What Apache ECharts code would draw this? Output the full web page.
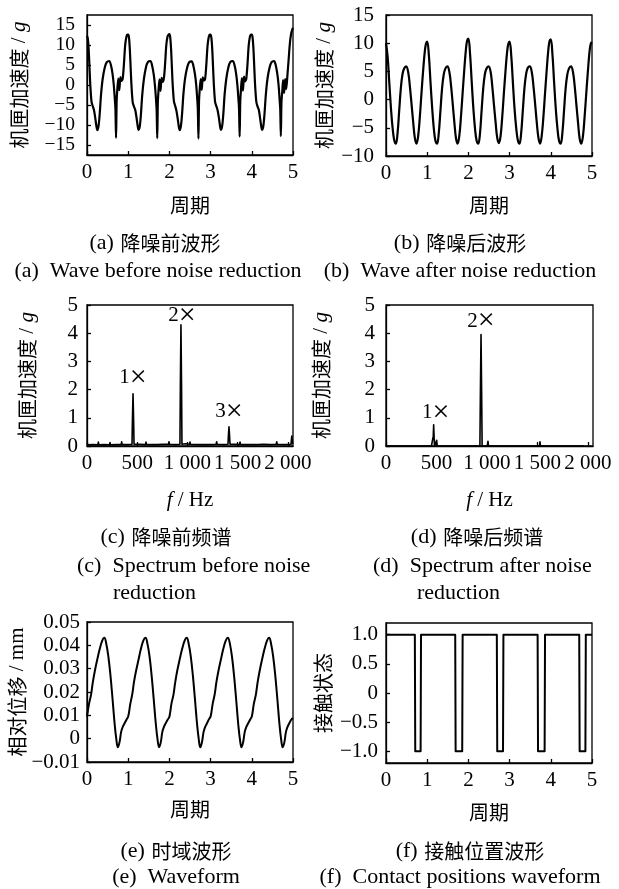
<!DOCTYPE html>
<html><head><meta charset="utf-8">
<script src="https://cdn.jsdelivr.net/npm/echarts@6/dist/echarts.min.js"></script>
<style>html,body{margin:0;padding:0;background:#fff}#c{width:619px;height:889px}</style>
</head><body><div id="c"></div>
<script>
// ---------- (a) wave before noise reduction ----------
const waveA_t = [
 0,0.02,0.04,0.06,0.08,0.11,0.14,0.17,0.20,0.23,0.25,0.28,0.31,0.34,0.38,0.43,0.48,0.54,0.58,0.62,0.65,0.675,0.69,0.705,0.72,0.74,0.76,0.785,0.81,0.835,0.865,0.895,0.925,0.955,0.98,
 1,1.02,1.04,1.06,1.08,1.11,1.14,1.17,1.20,1.23,1.25,1.28,1.31,1.34,1.38,1.43,1.48,1.54,1.58,1.62,1.65,1.675,1.69,1.705,1.72,1.74,1.76,1.785,1.81,1.835,1.865,1.895,1.925,1.955,1.98,
 2,2.02,2.04,2.06,2.08,2.11,2.14,2.17,2.20,2.23,2.25,2.28,2.31,2.34,2.38,2.43,2.48,2.54,2.58,2.62,2.65,2.675,2.69,2.705,2.72,2.74,2.76,2.785,2.81,2.835,2.865,2.895,2.925,2.955,2.98,
 3,3.02,3.04,3.06,3.08,3.11,3.14,3.17,3.20,3.23,3.25,3.28,3.31,3.34,3.38,3.43,3.48,3.54,3.58,3.62,3.65,3.675,3.69,3.705,3.72,3.74,3.76,3.785,3.81,3.835,3.865,3.895,3.925,3.955,3.98,
 4,4.02,4.04,4.06,4.08,4.11,4.14,4.17,4.20,4.23,4.25,4.28,4.31,4.34,4.38,4.43,4.48,4.54,4.58,4.62,4.65,4.675,4.69,4.705,4.72,4.74,4.76,4.785,4.81,4.835,4.865,4.895,4.925,4.955,4.98,
 5];
const waveA_v = [
 12.3,11.6,9.0,4.5,0.0,-4.2,-5.3,-6.3,-8.2,-10.4,-11.3,-10.3,-7.0,-2.5,1.5,4.3,5.7,6.0,5.0,2.8,0.0,-3.5,-6.0,-13.2,-4.0,-0.5,1.6,-1.3,2.0,1.0,1.5,5.0,9.8,12.0,12.6,
 12.6,11.8,8.8,4.2,-0.2,-4.4,-5.4,-6.2,-8.0,-10.2,-11.2,-10.4,-7.2,-2.6,1.4,4.4,5.8,6.0,4.9,2.6,-0.2,-3.6,-6.2,-13.3,-4.2,-0.8,1.4,-1.5,1.8,0.8,1.6,5.2,10.0,12.1,12.6,
 12.7,11.9,9.1,4.6,0.1,-4.1,-5.2,-6.4,-8.3,-10.5,-11.3,-10.2,-6.9,-2.3,1.6,4.3,5.7,5.9,4.9,2.7,0.1,-3.4,-6.1,-13.4,-3.8,-0.6,1.5,-1.2,1.9,1.1,1.4,4.9,9.7,12.0,12.6,
 12.6,11.7,8.9,4.4,-0.1,-4.3,-5.3,-6.3,-8.1,-10.3,-11.2,-10.3,-7.1,-2.4,1.5,4.4,5.8,6.0,5.0,2.8,0.0,-3.5,-5.9,-12.9,-4.1,-0.7,1.7,-1.4,2.1,0.9,1.5,5.1,9.9,12.1,12.6,
 12.6,11.8,9.0,4.5,0.0,-4.2,-5.4,-6.2,-8.2,-10.4,-11.2,-10.3,-7.0,-2.5,1.5,4.3,5.7,6.0,5.0,2.7,0.0,-3.6,-6.0,-12.8,-4.3,-1.5,1.2,-2.0,1.5,-1.0,2.5,6.5,10.5,12.8,13.8,
 14.3];

// ---------- (b) wave after noise reduction ----------
const waveB_t = [
 0,0.04,0.08,0.12,0.16,0.20,0.24,0.28,0.32,0.36,0.40,0.44,0.49,0.54,0.58,0.62,0.66,0.70,0.74,0.78,0.82,0.86,0.90,0.94,0.97,
 1,1.04,1.08,1.12,1.16,1.20,1.24,1.28,1.32,1.36,1.40,1.44,1.49,1.54,1.58,1.62,1.66,1.70,1.74,1.78,1.82,1.86,1.90,1.94,1.97,
 2,2.04,2.08,2.12,2.16,2.20,2.24,2.28,2.32,2.36,2.40,2.44,2.49,2.54,2.58,2.62,2.66,2.70,2.74,2.78,2.82,2.86,2.90,2.94,2.97,
 3,3.04,3.08,3.12,3.16,3.20,3.24,3.28,3.32,3.36,3.40,3.44,3.49,3.54,3.58,3.62,3.66,3.70,3.74,3.78,3.82,3.86,3.90,3.94,3.97,
 4,4.04,4.08,4.12,4.16,4.20,4.24,4.28,4.32,4.36,4.40,4.44,4.49,4.54,4.58,4.62,4.66,4.70,4.74,4.78,4.82,4.86,4.90,4.94,4.97,
 5];
const waveB_v = [
 10.0,7.6,3.0,-1.5,-5.0,-7.2,-7.8,-6.0,-2.0,2.0,4.5,5.5,5.9,4.8,2.3,-0.8,-4.0,-6.8,-7.8,-6.5,-3.2,1.0,5.0,8.4,9.9,
 10.3,7.9,3.1,-1.4,-5.1,-7.3,-7.8,-6.0,-2.1,1.9,4.4,5.5,5.9,4.8,2.4,-0.8,-4.1,-6.9,-7.8,-6.4,-3.0,1.2,5.3,8.9,10.5,
 10.8,8.1,3.2,-1.5,-5.1,-7.3,-7.8,-6.1,-2.0,2.0,4.5,5.5,5.9,4.9,2.3,-0.9,-4.0,-6.8,-7.7,-6.5,-3.2,1.0,5.0,8.5,9.9,
 10.3,7.8,3.0,-1.6,-5.0,-7.2,-7.8,-6.0,-2.0,2.0,4.5,5.6,5.9,4.8,2.3,-0.8,-4.1,-6.8,-7.8,-6.4,-3.1,1.1,5.2,8.8,10.4,
 10.7,8.0,3.1,-1.5,-5.0,-7.3,-7.8,-6.0,-2.1,2.0,4.4,5.5,5.9,4.8,2.4,-0.8,-4.0,-6.9,-7.8,-6.5,-3.1,1.0,5.0,8.5,9.9,
 10.2];

// ---------- (c) spectrum before noise reduction ----------
const specC_f = [0,60,108,113,118,170,224,229,234,290,340,345,350,400,448,452,458,464,468,520,582,587,592,645,695,700,705,760,811,816,821,880,925,929,935,941,945,980,1020,1025,1030,1100,1166,1171,1176,1230,1285,1290,1295,1360,1403,1407,1413,1419,1423,1470,1518,1523,1528,1580,1637,1642,1647,1700,1756,1761,1766,1830,1883,1888,1893,1960,2030,2038,2045,2050];
const specC_a = [0.04,0.05,0.04,0.14,0.04,0.05,0.04,0.12,0.04,0.05,0.05,0.15,0.05,0.05,0.06,0.9,1.85,0.9,0.06,0.06,0.05,0.14,0.05,0.05,0.05,0.12,0.05,0.06,0.06,0.15,0.06,0.05,0.06,2.1,4.3,2.1,0.06,0.08,0.06,0.14,0.06,0.05,0.05,0.12,0.05,0.05,0.06,0.15,0.06,0.05,0.06,0.35,0.68,0.35,0.06,0.06,0.05,0.14,0.05,0.05,0.05,0.12,0.05,0.05,0.06,0.13,0.06,0.05,0.06,0.15,0.06,0.05,0.06,0.35,0.1,0.12];
const peaksC_f = [458, 935, 1413];
const peaksC_a = [1.85, 4.3, 0.68];
const peaksC_n = ['1', '2', '3'];

// ---------- (d) spectrum after noise reduction ----------
const specD_f = [0,450,464,468,472,476,480,497,502,507,930,935,941,947,952,1005,1010,1015,1398,1403,1408,1520,1525,1530,1960];
const specD_a = [0,0,0,0.35,0.75,0.35,0,0,0.2,0,0,1.95,3.95,1.95,0,0,0.17,0,0,0.06,0,0,0.15,0,0];
const peaksD_f = [472, 941];
const peaksD_a = [0.75, 3.95];
const peaksD_n = ['1', '2'];

// ---------- (e) relative displacement ----------
const dispE_t = [
 0,0.05,0.10,0.14,0.19,0.25,0.31,0.37,0.42,0.47,0.52,0.57,0.62,0.67,0.71,0.75,0.79,0.83,0.87,0.91,0.96,
 1,1.05,1.10,1.14,1.19,1.25,1.31,1.37,1.42,1.47,1.52,1.57,1.62,1.67,1.71,1.75,1.79,1.83,1.87,1.91,1.96,
 2,2.05,2.10,2.14,2.19,2.25,2.31,2.37,2.42,2.47,2.52,2.57,2.62,2.67,2.71,2.75,2.79,2.83,2.87,2.91,2.96,
 3,3.05,3.10,3.14,3.19,3.25,3.31,3.37,3.42,3.47,3.52,3.57,3.62,3.67,3.71,3.75,3.79,3.83,3.87,3.91,3.96,
 4,4.05,4.10,4.14,4.19,4.25,4.31,4.37,4.42,4.47,4.52,4.57,4.62,4.67,4.71,4.75,4.79,4.83,4.87,4.91,4.96,
 5];
const dispE_v = [
 0.0095,0.0150,0.0190,0.0240,0.0290,0.0340,0.0385,0.0420,0.0432,0.0405,0.0350,0.0270,0.0170,0.0065,0.0000,-0.0037,-0.0015,0.0030,0.0052,0.0065,0.0082,
 0.0095,0.0148,0.0192,0.0242,0.0290,0.0338,0.0386,0.0421,0.0432,0.0404,0.0350,0.0268,0.0168,0.0064,0.0000,-0.0037,-0.0016,0.0030,0.0052,0.0066,0.0082,
 0.0094,0.0150,0.0190,0.0240,0.0291,0.0340,0.0385,0.0420,0.0432,0.0405,0.0351,0.0270,0.0170,0.0065,0.0001,-0.0037,-0.0015,0.0029,0.0051,0.0065,0.0083,
 0.0095,0.0149,0.0191,0.0241,0.0290,0.0339,0.0386,0.0421,0.0433,0.0405,0.0350,0.0269,0.0169,0.0064,0.0000,-0.0037,-0.0015,0.0030,0.0052,0.0065,0.0082,
 0.0095,0.0150,0.0190,0.0240,0.0290,0.0340,0.0385,0.0420,0.0432,0.0405,0.0350,0.0270,0.0170,0.0065,0.0000,-0.0037,-0.0016,0.0030,0.0052,0.0066,0.0082,
 0.0088];

// ---------- (f) contact state ----------
const contactF_t = [0,0.70,0.71,0.84,0.85,1.68,1.69,1.85,1.86,2.69,2.70,2.84,2.85,3.68,3.69,3.85,3.86,4.69,4.70,4.84,4.85,5];
const contactF_v = [1,1,-1,-1,1,1,-1,-1,1,1,-1,-1,1,1,-1,-1,1,1,-1,-1,1,1];

// ---------- tick labels ----------
const ticksPeriod = [0,1,2,3,4,5];
const labelsPeriod = ['0','1','2','3','4','5'];
const ticksA = [-15,-10,-5,0,5,10,15];
const labelsA = ['\u221215','\u221210','\u22125','0','5','10','15'];
const ticksB = [-10,-5,0,5,10,15];
const labelsB = ['\u221210','\u22125','0','5','10','15'];
const ticksFreq = [0,500,1000,1500,2000];
const labelsFreq = ['0','500','1 000','1 500','2 000'];
const ticksSpec = [0,1,2,3,4,5];
const labelsSpec = ['0','1','2','3','4','5'];
const ticksE = [-0.01,0,0.01,0.02,0.03,0.04,0.05];
const labelsE = ['\u22120.01','0','0.01','0.02','0.03','0.04','0.05'];
const ticksF = [-1,-0.5,0,0.5,1];
const labelsF = ['\u22121.0','\u22120.5','0','0.5','1.0'];

const captionsZh = ['降噪前波形','降噪后波形','降噪前频谱','降噪后频谱','时域波形','接触位置波形'];
const captionsEn = ['Wave before noise reduction','Wave after noise reduction','Spectrum before noise','Spectrum after noise','Waveform','Contact positions waveform'];
const captionTags = ['(a)','(b)','(c)','(d)','(e)','(f)'];

// ================= rendering =================
const SERIF = '"Liberation Serif","Times New Roman",serif';
const CJK = '"Noto Sans CJK SC",sans-serif';
const BLACK = '#000';
const FS = 21;

const nameRich = {
  c: {fontFamily: CJK, fontSize: 20, color: BLACK},
  s: {fontFamily: SERIF, fontSize: 21, color: BLACK},
  i: {fontFamily: SERIF, fontSize: 21, fontStyle: 'italic', color: BLACK}
};

function lab(ticks, labels) {
  return v => { const k = ticks.findIndex(t => Math.abs(t - v) < 1e-9); return k < 0 ? '' : labels[k]; };
}
function mkX(i, min, max, ticks, labels, name, gap) {
  return {
    type: 'value', gridIndex: i, min, max,
    axisLine: {show: true, onZero: false, lineStyle: {color: BLACK, width: 1.3}},
    axisTick: {show: true, inside: true, length: 4, customValues: ticks, lineStyle: {color: BLACK, width: 1.3}},
    axisLabel: {show: true, customValues: ticks, formatter: lab(ticks, labels), margin: 7, color: BLACK, fontFamily: SERIF, fontSize: FS,
      hideOverlap: false, showMinLabel: true, showMaxLabel: true, interval: 0},
    splitLine: {show: false},
    name, nameLocation: 'middle', nameGap: gap, nameTextStyle: {rich: nameRich}
  };
}
function mkY(i, min, max, ticks, labels, name, gap, margin, fs) {
  return {
    type: 'value', gridIndex: i, min, max,
    axisLine: {show: true, onZero: false, lineStyle: {color: BLACK, width: 1.3}},
    axisTick: {show: true, inside: true, length: 4, customValues: ticks, lineStyle: {color: BLACK, width: 1.3}},
    axisLabel: {show: true, customValues: ticks, formatter: lab(ticks, labels), margin, color: BLACK, fontFamily: SERIF, fontSize: fs || FS, lineHeight: 16,
      hideOverlap: false, showMinLabel: true, showMaxLabel: true, interval: 0},
    splitLine: {show: false},
    name, nameLocation: 'middle', nameRotate: 90, nameGap: gap, nameTextStyle: {rich: nameRich}
  };
}
const zip = (a, b) => a.map((x, k) => [x, b[k]]);
function lineSeries(i, data, smooth, width) {
  return {
    type: 'line', xAxisIndex: i, yAxisIndex: i, data, smooth, showSymbol: false, symbol: 'none',
    lineStyle: {color: BLACK, width, join: 'round'}, animation: false, silent: true, z: 3
  };
}
function peakMarks(fs, as, ns, offsets) {
  return {
    symbol: 'circle', symbolSize: 0, silent: true, animation: false,
    data: fs.map((f, k) => ({
      coord: [f, as[k]], value: ns[k],
      label: {show: true, position: 'inside', offset: offsets[k],
        formatter: '{n|' + ns[k] + '}{x|\u00d7}',
        rich: {n: {fontFamily: SERIF, fontSize: 21, color: BLACK}, x: {fontFamily: SERIF, fontSize: 30, color: BLACK}}}
    }))
  };
}

const gridBoxes = [
  {left: 87, top: 15, width: 206, height: 140},
  {left: 386, top: 15, width: 206, height: 141},
  {left: 87, top: 305, width: 206, height: 141},
  {left: 386, top: 305, width: 207, height: 141},
  {left: 87, top: 622, width: 206, height: 140},
  {left: 386, top: 623, width: 206, height: 140}
];
const grid = gridBoxes.map(g => Object.assign({show: true, borderColor: BLACK, borderWidth: 1.3, backgroundColor: 'transparent', containLabel: false, outerBoundsMode: 'none'}, g));

const accName = '{c|机匣加速度}{s| / }{i|g}';
const xAxis = [
  mkX(0, 0, 5, ticksPeriod, labelsPeriod, '{c|周期}', 40),
  mkX(1, 0, 5, ticksPeriod, labelsPeriod, '{c|周期}', 39),
  mkX(2, 0, 2050, ticksFreq, labelsFreq, '{i|f}{s| / Hz}', 44),
  mkX(3, 0, 2050, ticksFreq, labelsFreq, '{i|f}{s| / Hz}', 44),
  mkX(4, 0, 5, ticksPeriod, labelsPeriod, '{c|周期}', 37),
  mkX(5, 0, 5, ticksPeriod, labelsPeriod, '{c|周期}', 39)
];
const yAxis = [
  mkY(0, -17.5, 17.5, ticksA, labelsA, accName, 57, 12, 19.5),
  mkY(1, -10, 15, ticksB, labelsB, accName, 51, 12),
  mkY(2, 0, 5, ticksSpec, labelsSpec, accName, 49, 9),
  mkY(3, 0, 5, ticksSpec, labelsSpec, accName, 54, 11),
  mkY(4, -0.01, 0.05, ticksE, labelsE, '{c|相对位移}{s| / mm}', 55, 7),
  mkY(5, -1.2, 1.2, ticksF, labelsF, '{c|接触状态}', 53, 8)
];

const sC = lineSeries(2, zip(specC_f, specC_a), false, 1.6);
sC.markPoint = peakMarks(peaksC_f, peaksC_a, peaksC_n, [[0, -16], [1, -9], [0, -15]]);
const sD = lineSeries(3, zip(specD_f, specD_a), false, 1.6);
sD.markPoint = peakMarks(peaksD_f, peaksD_a, peaksD_n, [[2, -12], [0, -13]]);

const series = [
  lineSeries(0, zip(waveA_t, waveA_v), 0.3, 2.2),
  lineSeries(1, zip(waveB_t, waveB_v), 0.4, 2.2),
  sC, sD,
  lineSeries(4, zip(dispE_t, dispE_v), 0.4, 2.0),
  lineSeries(5, zip(contactF_t, contactF_v), false, 2.0)
];

// captions
const capRich = {
  s: {fontFamily: SERIF, fontSize: 22, fill: BLACK},
  c: {fontFamily: CJK, fontSize: 20, fill: BLACK}
};
function cap(x, y, text, align) {
  return {type: 'text', x, y, silent: true,
    style: {text, rich: capRich, fill: BLACK, align: align || 'center', verticalAlign: 'middle'}};
}
const graphic = [
  cap(155, 243, '{s|' + captionTags[0] + '}  {c|' + captionsZh[0] + '}'),
  cap(158, 271, '{s|' + captionTags[0] + '  ' + captionsEn[0] + '}'),
  cap(460, 243, '{s|' + captionTags[1] + '}  {c|' + captionsZh[1] + '}'),
  cap(460, 271, '{s|' + captionTags[1] + '  ' + captionsEn[1] + '}'),
  cap(166, 537, '{s|' + captionTags[2] + '}  {c|' + captionsZh[2] + '}'),
  cap(77, 566, '{s|' + captionTags[2] + '  ' + captionsEn[2] + '}', 'left'),
  cap(113, 593, '{s|reduction}', 'left'),
  cap(477, 537, '{s|' + captionTags[3] + '}  {c|' + captionsZh[3] + '}'),
  cap(373, 566, '{s|' + captionTags[3] + '  ' + captionsEn[3] + '}', 'left'),
  cap(417, 593, '{s|reduction}', 'left'),
  cap(176, 851, '{s|' + captionTags[4] + '}  {c|' + captionsZh[4] + '}'),
  cap(176, 877, '{s|' + captionTags[4] + '  ' + captionsEn[4] + '}'),
  cap(470, 851, '{s|' + captionTags[5] + '}  {c|' + captionsZh[5] + '}'),
  cap(460, 877, '{s|' + captionTags[5] + '  ' + captionsEn[5] + '}')
];

const chart = echarts.init(document.getElementById('c'), null, {renderer: 'canvas', width: 619, height: 889});
chart.setOption({
  backgroundColor: '#fff', animation: false,
  grid, xAxis, yAxis, series, graphic
});
</script></body></html>
